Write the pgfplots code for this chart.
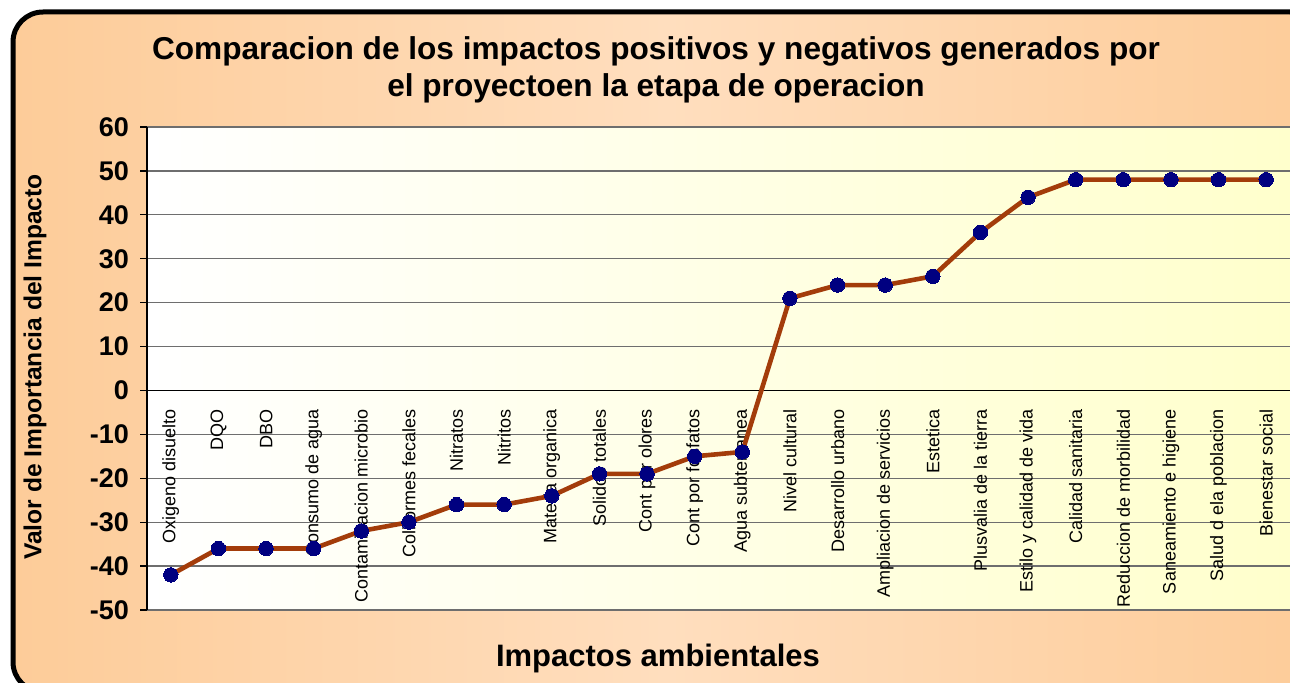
\documentclass[border=0pt]{standalone}
\usepackage{pgfplots}
\pgfplotsset{compat=1.18}
\usepackage{fontspec}
\setmainfont{Liberation Sans}
\definecolor{frameor}{RGB}{253,204,153}
\definecolor{framelt}{RGB}{255,222,190}
\definecolor{plotyel}{RGB}{255,255,204}
\definecolor{linebr}{RGB}{163,60,10}
\definecolor{mknavy}{RGB}{0,0,128}
\definecolor{gridg}{RGB}{110,110,110}
\begin{document}
\begin{tikzpicture}[x=1pt,y=1pt]
\useasboundingbox (0,0) rectangle (645,341);
\clip (0,0) rectangle (645,341);
\path[left color=frameor, right color=frameor, middle color=framelt, draw=black, line width=2.5pt, rounded corners=15pt] (6.5,-5) rectangle (660,335);
\begin{axis}[
  at={(73.5pt,36pt)}, anchor=south west,
  scale only axis, width=571.5pt, height=241.5pt,
  xmin=-0.5, xmax=23.5, ymin=-50, ymax=60,
  axis x line=middle, axis y line=left,
  axis line style={-, black, line width=0.6pt},
  xtick={0,...,23},
  xticklabels={Oxigeno disuelto,DQO,DBO,Consumo de agua,Contaminacion microbio,Coliformes fecales,Nitratos,Nitritos,Materia organica,Solidos totales,Cont por olores,Cont por fosfatos,Agua subterranea,Nivel cultural,Desarrollo urbano,Ampliacion de servicios,Estetica,Plusvalia de la tierra,Estilo y calidad de vida,Calidad sanitaria,Reduccion de morbilidad,Saneamiento e higiene,Salud d ela poblacion,Bienestar social},
  x tick style={draw=none},
  xticklabel style={rotate=90, anchor=east, font=\fontsize{9}{9}\selectfont, inner sep=0pt},
  xticklabel shift=6pt,
  ytick={-50,-40,...,60},
  y tick style={black, line width=0.6pt},
  tick align=outside, major tick length=3.5pt,
  yticklabel style={font=\bfseries\fontsize{13.5}{13.5}\selectfont, xshift=-2pt},
  /pgf/number format/assume math mode=true,
  ymajorgrids, grid style={gridg, line width=0.6pt},
  axis background/.style={left color=white, right color=plotyel},
  clip=false,
]
\addplot[linebr, line width=2.3pt, mark=*, mark size=3.6pt, mark options={draw=mknavy, fill=mknavy, line width=0pt}] coordinates {
(0,-42) (1,-36) (2,-36) (3,-36) (4,-32) (5,-30) (6,-26) (7,-26) (8,-24) (9,-19) (10,-19) (11,-15) (12,-14)
(13,21) (14,24) (15,24) (16,26) (17,36) (18,44) (19,48) (20,48) (21,48) (22,48) (23,48)};
\end{axis}
\node[align=center, font=\bfseries\fontsize{15.8}{18.5}\selectfont] at (328,306) {Comparacion de los impactos positivos y negativos generados por\\el proyectoen la etapa de operacion};
\node[rotate=90, font=\bfseries\fontsize{12.3}{12.3}\selectfont] at (17.5,157.5) {Valor de Importancia del Impacto};
\node[font=\bfseries\fontsize{15.5}{15.5}\selectfont] at (329,12) {Impactos ambientales};
\end{tikzpicture}
\end{document}
